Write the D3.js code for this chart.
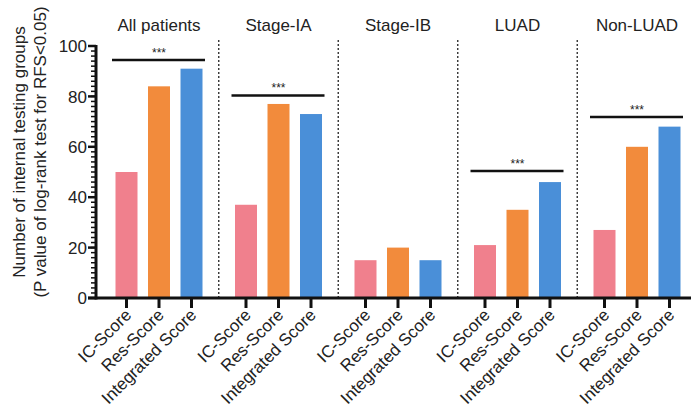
<!DOCTYPE html>
<html>
<head>
<meta charset="utf-8">
<script src="https://cdn.jsdelivr.net/npm/d3@7"></script>
<style>
  body { margin: 0; background: #fff; }
  svg { font-family: "Liberation Sans", Arial, sans-serif; }
</style>
</head>
<body>
<div id="chart"></div>
<script>
var groups = ["All patients", "Stage-IA", "Stage-IB", "LUAD", "Non-LUAD"];
var series = ["IC-Score", "Res-Score", "Integrated Score"];
var icScore = [50, 37, 15, 21, 27];
var resScore = [84, 77, 20, 35, 60];
var integratedScore = [91, 73, 15, 46, 68];
// significance bars: group and height in data units
var sigGroups = ["All patients", "Stage-IA", "LUAD", "Non-LUAD"];
var sigHeights = [94.4, 80.4, 50.4, 71.8];
var yTicks = [0, 20, 40, 60, 80, 100];

var colors = ["#f0808d", "#f28b3c", "#4a8fd8"];

var width = 691, height = 413;
var axisX = 96, axisY0 = 298, axisY1 = 46;

var svg = d3.select("#chart").append("svg")
  .attr("width", width).attr("height", height);

var y = d3.scaleLinear().domain([0, 100]).range([axisY0, axisY1]);
var xg = d3.scaleBand().domain(groups).range([99.25, 696.75]);
var xs = d3.scalePoint().domain(series).range([-32.5, 32.5]);
var barW = 22;

var values = [icScore, resScore, integratedScore];
var data = [];
groups.forEach(function(g, i) {
  series.forEach(function(s, j) {
    data.push({group: g, series: s, value: values[j][i], color: colors[j]});
  });
});

function cx(g, s) { return xg(g) + xg.bandwidth() / 2 + xs(s); }

// dotted separators
svg.selectAll(".sep").data(groups.slice(1)).enter().append("line")
  .attr("x1", function(d) { return xg(d); })
  .attr("x2", function(d) { return xg(d); })
  .attr("y1", 40).attr("y2", axisY0)
  .attr("stroke", "#333").attr("stroke-width", 1.4)
  .attr("stroke-dasharray", "2,2");

// bars
svg.selectAll(".bar").data(data).enter().append("rect")
  .attr("x", function(d) { return cx(d.group, d.series) - barW / 2; })
  .attr("y", function(d) { return y(d.value); })
  .attr("width", barW)
  .attr("height", function(d) { return y(0) - y(d.value); })
  .attr("fill", function(d) { return d.color; });

// y axis with minor ticks
var yAxis = svg.append("g").attr("transform", "translate(" + axisX + ",0)");
yAxis.selectAll(".minor").data(d3.range(0, 101, 2)).enter().append("line")
  .attr("x1", 0).attr("x2", -5)
  .attr("y1", function(d) { return y(d); }).attr("y2", function(d) { return y(d); })
  .attr("stroke", "#111").attr("stroke-width", 1.5);
yAxis.selectAll(".major").data(yTicks).enter().append("line")
  .attr("x1", 0).attr("x2", -8)
  .attr("y1", function(d) { return y(d); }).attr("y2", function(d) { return y(d); })
  .attr("stroke", "#111").attr("stroke-width", 2.5);
yAxis.selectAll(".lab").data(yTicks).enter().append("text")
  .attr("x", -9).attr("y", function(d) { return y(d); })
  .attr("dy", "0.36em").attr("text-anchor", "end")
  .style("font-size", "17px").attr("fill", "#222")
  .text(function(d) { return d; });
yAxis.append("line").attr("x1", 0).attr("x2", 0)
  .attr("y1", y(100) - 1).attr("y2", axisY0 + 1.5)
  .attr("stroke", "#111").attr("stroke-width", 3);

// x axis
svg.append("line").attr("x1", axisX - 8).attr("x2", width)
  .attr("y1", axisY0).attr("y2", axisY0)
  .attr("stroke", "#111").attr("stroke-width", 3);
svg.selectAll(".xt").data(data).enter().append("line")
  .attr("x1", function(d) { return cx(d.group, d.series); })
  .attr("x2", function(d) { return cx(d.group, d.series); })
  .attr("y1", axisY0).attr("y2", axisY0 + 10)
  .attr("stroke", "#111").attr("stroke-width", 3);
svg.selectAll(".xl").data(data).enter().append("text")
  .attr("transform", function(d) {
    return "translate(" + (cx(d.group, d.series) + 6) + "," + (axisY0 + 18) + ") rotate(-45)";
  })
  .attr("text-anchor", "end")
  .style("font-size", "17px").attr("fill", "#222")
  .text(function(d) { return d.series; });

// group titles
svg.selectAll(".gt").data(groups).enter().append("text")
  .attr("x", function(d) { return xg(d) + xg.bandwidth() / 2; })
  .attr("y", 31)
  .attr("text-anchor", "middle")
  .style("font-size", "17px").attr("fill", "#222")
  .text(function(d) { return d; });

// significance lines
sigGroups.forEach(function(g, i) {
  var c = xg(g) + xg.bandwidth() / 2;
  var yy = y(sigHeights[i]);
  svg.append("line").attr("x1", c - 47).attr("x2", c + 46)
    .attr("y1", yy).attr("y2", yy)
    .attr("stroke", "#111").attr("stroke-width", 2.5);
  svg.append("text").attr("x", c).attr("y", yy - 3)
    .attr("text-anchor", "middle")
    .style("font-size", "12px").attr("fill", "#222")
    .text("***");
});

// y label
var yl = svg.append("text")
  .attr("transform", "translate(25,152) rotate(-90)")
  .attr("text-anchor", "middle")
  .style("font-size", "17px").attr("fill", "#222");
yl.append("tspan").attr("x", 0).attr("y", 0).text("Number of internal testing groups");
yl.append("tspan").attr("x", 0).attr("y", 21).text("(P value of log-rank test for RFS<0.05)");
</script>
</body>
</html>
